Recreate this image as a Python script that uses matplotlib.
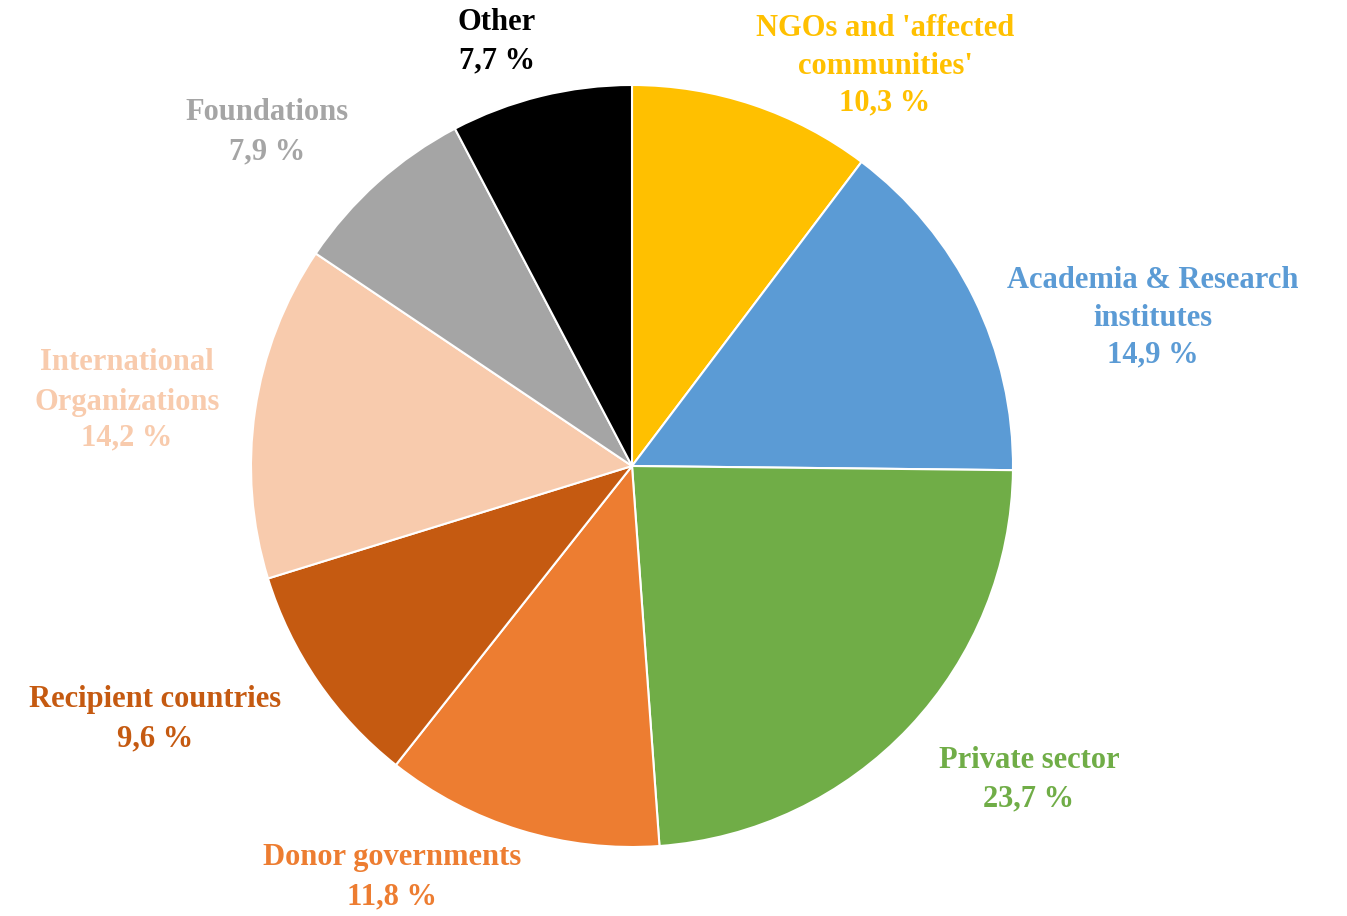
import matplotlib
matplotlib.use("Agg")
import matplotlib.pyplot as plt

categories = ["NGOs and 'affected\ncommunities'", "Academia & Research\ninstitutes", "Private sector",
              "Donor governments", "Recipient countries", "International\nOrganizations",
              "Foundations", "Other"]
shares = [10.3, 14.9, 23.7, 11.8, 9.6, 14.2, 7.9, 7.7]
colors = ["#FFC000", "#5B9BD5", "#70AD47", "#ED7D31", "#C55A11", "#F8CBAD", "#A5A5A5", "#000000"]

# label centre positions in pixels (x, y of first line from top)
label_pos = [(885, 28), (1153, 280), (1029, 760), (392, 858), (155, 700), (127, 363), (267, 113), (497, 22)]

W, H = 1347, 916
plt.rcParams['font.family'] = ['Liberation Serif', 'DejaVu Serif']
fig = plt.figure(figsize=(W / 100, H / 100), dpi=100)

cx, cy, r = 632, 466, 381
ax = fig.add_axes([(cx - r) / W, (H - cy - r) / H, 2 * r / W, 2 * r / H])
ax.pie(shares, colors=colors, startangle=90, counterclock=False, radius=1,
       wedgeprops=dict(edgecolor='white', linewidth=1.5))
ax.set_xlim(-1, 1)
ax.set_ylim(-1, 1)
ax.axis('off')

line_h = 39
for name, val, col, (px, py) in zip(categories, shares, colors, label_pos):
    lines = name.split("\n") + [f"{val:.1f} %".replace(".", ",")]
    for i, t in enumerate(lines):
        y = py + i * line_h
        if i == len(lines) - 1 and len(lines) > 2:
            y = py + i * line_h - 3
        fig.text(px / W, 1 - y / H, t, color=col, fontsize=22, fontweight='bold',
                 ha='center', va='center')

fig.savefig("out.png", dpi=100)
